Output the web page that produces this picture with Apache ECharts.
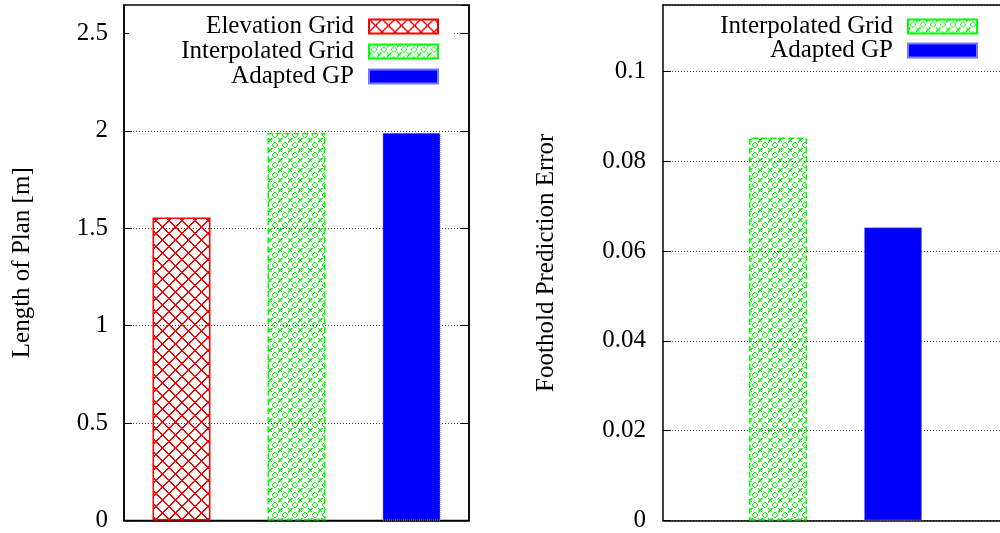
<!DOCTYPE html>
<html>
<head>
<meta charset="utf-8">
<script src="https://cdn.jsdelivr.net/npm/echarts@6/dist/echarts.min.js"></script>
<style>
  html, body { margin: 0; padding: 0; background: #fff; }
  #main { width: 1000px; height: 533px; }
</style>
</head>
<body>
<div id="main"></div>
<script>
// 数据
var planNames = ['Elevation Grid', 'Interpolated Grid', 'Adapted GP'];
var planLength = [1.555, 1.99, 1.99];
var errorNames = ['Interpolated Grid', 'Adapted GP'];
var errorPos = [1, 2];
var errorValues = [0.0853, 0.0653];
var planTicks = { min: 0, max: 2.646, interval: 0.5 };
var errorTicks = { min: 0, max: 0.1148, interval: 0.02 };
var errorXRange = { min: 0, max: 2.93 };

var FONT = 'Liberation Serif';

// 填充图案 (pixel tiles, no antialiasing)
function crossHatch() {
    var c = document.createElement('canvas');
    c.width = 13; c.height = 13;
    var g = c.getContext('2d');
    g.fillStyle = '#ff0000';
    for (var i = 0; i < 13; i++) {
        g.fillRect(i, i, 1, 1);
        g.fillRect(12 - i, i, 1, 1);
        if (i < 12) {
            g.fillRect(i + 1, i, 1, 1);
            g.fillRect(11 - i, i, 1, 1);
        }
    }
    return c;
}
function greenDots() {
    var c = document.createElement('canvas');
    c.width = 10; c.height = 10;
    var g = c.getContext('2d');
    g.fillStyle = '#00ff00';
    // small ring in the middle
    var ring = [[4,2],[5,2],[3,3],[6,3],[2,4],[7,4],[2,5],[7,5],[3,6],[6,6],[4,7],[5,7]];
    ring.forEach(function (p) { g.fillRect(p[0], p[1], 1, 1); });
    // crosses on the corners
    var cross = [[0,0],[1,1],[9,9],[8,8],[9,1],[8,2],[1,9],[2,8],[9,0],[0,9],[1,8],[8,1]];
    cross.forEach(function (p) { g.fillRect(p[0], p[1], 1, 1); });
    return c;
}

var styles = {
    'Elevation Grid': { color: { image: crossHatch(), repeat: 'repeat' }, borderColor: '#ff0000', borderWidth: 1.5, borderType: 'solid' },
    'Interpolated Grid': { color: { image: greenDots(), repeat: 'repeat' }, borderColor: '#00ff00', borderWidth: 1.5, borderType: 'dashed' },
    'Adapted GP': { color: '#0000ff', borderColor: '#7777ff', borderWidth: 1, borderType: 'dotted' }
};

var myChart = echarts.init(document.getElementById('main'));

var series = [];
planNames.forEach(function (name, i) {
    var d = planNames.map(function () { return '-'; });
    d[i] = planLength[i];
    series.push({
        name: name, type: 'bar', xAxisIndex: 0, yAxisIndex: 0,
        data: d, barWidth: 58, barGap: '-100%',
        itemStyle: styles[name]
    });
});
errorNames.forEach(function (name, i) {
    series.push({
        name: name + ' ', type: 'bar', xAxisIndex: 1, yAxisIndex: 2,
        data: [[errorPos[i], errorValues[i]]], barWidth: 58, barGap: '-100%',
        itemStyle: styles[name]
    });
});

function valueAxis(grid, ticks, name, gap, margin) {
    return {
        type: 'value', gridIndex: grid, position: 'left',
        min: ticks.min, max: ticks.max, interval: ticks.interval,
        name: name, nameLocation: 'middle', nameGap: gap,
        nameTextStyle: { fontFamily: FONT, fontSize: 25, color: '#000' },
        axisLine: { show: true, lineStyle: { color: '#000', width: 1.5 } },
        axisTick: { show: true, inside: true, length: 8, lineStyle: { color: '#000' } },
        axisLabel: { fontFamily: FONT, fontSize: 25, color: '#000', margin: margin, showMaxLabel: false },
        splitLine: { show: true, lineStyle: { color: '#444', width: 1, type: [1, 2] } }
    };
}

var legendText = { fontFamily: FONT, fontSize: 25, color: '#000', lineHeight: 25, padding: [0, 10, 0, 0] };

option = {
    animation: false,
    backgroundColor: '#fff',
    grid: [
        { left: 124, top: 5, width: 345, bottom: 12, show: true, borderColor: '#000', borderWidth: 1.5 },
        { left: 663, top: 5, right: 0, bottom: 12 }
    ],
    legend: [
        {
            data: planNames, orient: 'vertical', align: 'right', icon: 'rect',
            right: 547, top: 9, padding: [5, 14, 5, 52], itemGap: 0,
            itemWidth: 69, itemHeight: 14, backgroundColor: '#fff',
            textStyle: legendText, selectedMode: false
        },
        {
            data: errorNames.map(function (n) { return n + ' '; }),
            formatter: function (n) { return n.trim(); },
            orient: 'vertical', align: 'right', icon: 'rect',
            right: 22, top: 9, padding: [5, 0, 5, 20], itemGap: -1,
            itemWidth: 69, itemHeight: 14, backgroundColor: '#fff',
            textStyle: legendText, selectedMode: false
        }
    ],
    xAxis: [
        {
            type: 'category', gridIndex: 0, data: planNames, boundaryGap: true,
            axisLine: { lineStyle: { color: '#000', width: 1.5 } },
            axisTick: { show: false }, axisLabel: { show: false }
        },
        {
            type: 'value', gridIndex: 1, min: errorXRange.min, max: errorXRange.max,
            axisLine: { show: true, lineStyle: { color: '#000', width: 1.5 } },
            axisTick: { show: false }, axisLabel: { show: false }, splitLine: { show: false }
        },
        {
            type: 'value', gridIndex: 1, position: 'top', min: errorXRange.min, max: errorXRange.max,
            axisLine: { show: true, lineStyle: { color: '#000', width: 1.5 } },
            axisTick: { show: false }, axisLabel: { show: false }, splitLine: { show: false }
        }
    ],
    yAxis: [
        valueAxis(0, planTicks, 'Length of Plan [m]', 89, 16),
        {
            type: 'value', gridIndex: 0, position: 'right',
            min: planTicks.min, max: planTicks.max, interval: planTicks.interval,
            axisLine: { show: true, lineStyle: { color: '#000', width: 1.5 } },
            axisTick: { show: true, inside: true, length: 8, lineStyle: { color: '#000' } },
            axisLabel: { show: false }, splitLine: { show: false }
        },
        valueAxis(1, errorTicks, 'Foothold Prediction Error', 104, 17)
    ],
    series: series
};

myChart.setOption(option);
</script>
</body>
</html>
